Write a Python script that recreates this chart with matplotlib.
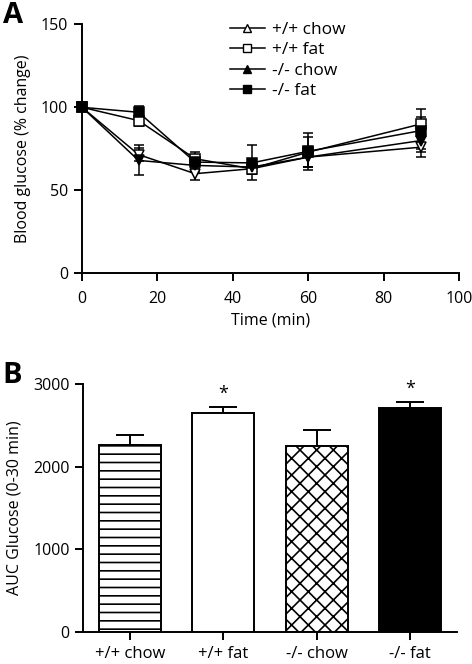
import matplotlib
matplotlib.use("Agg")
import matplotlib.pyplot as plt
from matplotlib.lines import Line2D
import numpy as np

plt.rcParams['font.family'] = ['Open Sans', 'DejaVu Sans']
plt.rcParams['hatch.linewidth'] = 1.2

# ---- Data: panel A ----
time_min = [0, 15, 30, 45, 60, 90]
series_names = ["+/+ chow", "+/+ fat", "-/- chow", "-/- fat"]
wt_chow = [100, 71.5, 60, 63, 70, 76]
wt_chow_err = [0, 4, 4, 3, 6, 6]
wt_fat = [100, 92, 69, 63, 73, 90]
wt_fat_err = [0, 3, 4, 3, 9, 4]
ko_chow = [100, 68, 65, 64, 70, 80]
ko_chow_err = [0, 9, 4, 4, 6, 5]
ko_fat = [100, 97, 67, 66.5, 73.5, 86]
ko_fat_err = [0, 4, 4, 10.5, 11, 13]

# ---- Data: panel B ----
groups = ["+/+ chow", "+/+ fat", "-/- chow", "-/- fat"]
auc = [2266, 2653, 2250, 2710]
auc_err = [113, 73, 197, 72]
significant = [False, True, False, True]

fig = plt.figure(figsize=(4.72, 6.64), dpi=100)

# ---------- Panel A ----------
axA = fig.add_axes([0.1737, 0.5884, 0.7988, 0.375])
styles = [
    dict(marker='v', mfc='white', mec='black'),
    dict(marker='s', mfc='white', mec='black'),
    dict(marker='v', mfc='black', mec='black'),
    dict(marker='s', mfc='black', mec='black'),
]
data = [(wt_chow, wt_chow_err), (wt_fat, wt_fat_err),
        (ko_chow, ko_chow_err), (ko_fat, ko_fat_err)]
for (y, e), st in zip(data, styles):
    axA.errorbar(time_min, y, yerr=e, color='black', lw=1.1, ms=6.5,
                 capsize=3.3, capthick=1.1, elinewidth=1.1, mew=1.1,
                 clip_on=False, zorder=3, **st)
axA.set_xlim(0, 100)
axA.set_ylim(0, 150)
axA.set_xticks([0, 20, 40, 60, 80, 100])
axA.set_yticks([0, 50, 100, 150])
for s in ['top', 'right']:
    axA.spines[s].set_visible(False)
for s in ['left', 'bottom']:
    axA.spines[s].set_linewidth(1.4)
axA.tick_params(width=1.4, length=6, labelsize=11.5, direction='out')
axA.tick_params(axis='x', pad=7)
axA.tick_params(axis='y', pad=4)
axA.set_xlabel("Time (min)", fontsize=11.5, labelpad=4)
axA.set_ylabel("Blood glucose (% change)", fontsize=11.5, labelpad=7)

leg_markers = ['^', 's', '^', 's']
leg_fc = ['white', 'white', 'black', 'black']
handles = [Line2D([0], [0], color='black', lw=1.1, marker=m, mfc=fc,
                  mec='black', ms=5.5, mew=1.0)
           for m, fc in zip(leg_markers, leg_fc)]
axA.legend(handles, series_names, loc='upper left',
           bbox_to_anchor=(0.36, 1.06), frameon=False, fontsize=12.5,
           handlelength=2.0, handletextpad=0.45, labelspacing=0.25,
           borderaxespad=0.3)

fig.text(0.006, 0.998, "A", fontsize=21, fontweight='bold', va='top', ha='left')

# ---------- Panel B ----------
axB = fig.add_axes([0.1758, 0.0482, 0.7922, 0.3735])
x = np.arange(len(groups))
fills = ['white', 'white', 'white', 'black']
hatches = ['--', None, 'xx', None]
for i in range(len(groups)):
    axB.bar(x[i], auc[i], width=0.66, color=fills[i], edgecolor='black',
            linewidth=1.4, hatch=hatches[i], zorder=2)
    axB.errorbar(x[i], auc[i], yerr=[[0], [auc_err[i]]], color='black',
                 capsize=10, capthick=1.4, elinewidth=1.4, fmt='none', zorder=1)
    if significant[i]:
        axB.text(x[i], auc[i] + auc_err[i] + 50, "*", ha='center', va='bottom',
                 fontsize=13)
axB.set_xlim(-0.5, 3.5)
axB.set_ylim(0, 3000)
axB.set_xticks(x)
axB.set_xticklabels(groups)
axB.set_yticks([0, 1000, 2000, 3000])
for s in ['top', 'right']:
    axB.spines[s].set_visible(False)
for s in ['left', 'bottom']:
    axB.spines[s].set_linewidth(1.4)
axB.tick_params(width=1.4, length=6, labelsize=11.5, direction='out')
axB.tick_params(axis='x', labelsize=12, pad=4)
axB.set_ylabel("AUC Glucose (0-30 min)", fontsize=11.5, labelpad=8)

fig.text(0.006, 0.457, "B", fontsize=21, fontweight='bold', va='top', ha='left')

fig.savefig("out.png", dpi=100)
